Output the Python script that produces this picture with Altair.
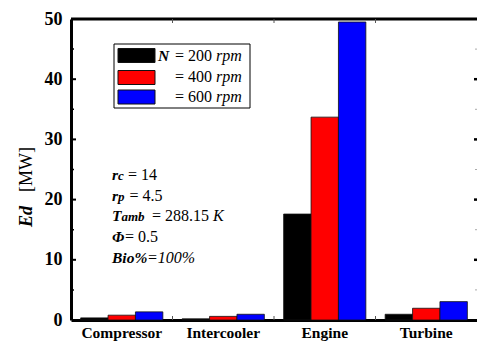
import altair as alt
import pandas as pd

# ---- data ----
components = ["Compressor", "Intercooler", "Engine", "Turbine"]
speeds = ["200", "400", "600"]
ed_200 = [0.35, 0.2, 17.6, 0.95]
ed_400 = [0.8, 0.6, 33.7, 1.95]
ed_600 = [1.35, 0.95, 49.5, 3.05]
bar_colors = ["#000000", "#ff0000", "#0000ff"]
y_major = [0, 10, 20, 30, 40, 50]
y_inner_major = [10, 20, 30, 40]
y_minor = [5, 15, 25, 35, 45]
boundaries = ["Intercooler", "Engine", "Turbine"]

rows = []
for i, c in enumerate(components):
    for s, vals in zip(speeds, [ed_200, ed_400, ed_600]):
        rows.append({"component": c, "speed": s, "ed": vals[i]})
df = pd.DataFrame(rows)

FONT = "Liberation Serif"
W, H = 406, 301
OX, OY = 71, 19  # plot origin in page pixels

xscale = alt.Scale(domain=components, paddingInner=0, paddingOuter=0)
yscale = alt.Scale(domain=[0, 50], nice=False, zero=True)

bars = alt.Chart(df).mark_bar(stroke="#111111", strokeWidth=0.8).encode(
    x=alt.X("component:N", scale=xscale, sort=components,
            axis=alt.Axis(title=None, labelFont=FONT, labelFontSize=15.5,
                          labelFontWeight="bold", labelColor="black",
                          labelAngle=0, labelPadding=5, ticks=False, tickSize=0,
                          domainColor="black", domainWidth=3)),
    xOffset=alt.XOffset("speed:N", sort=speeds,
                        scale=alt.Scale(paddingOuter=0.352, paddingInner=0)),
    y=alt.Y("ed:Q", scale=yscale,
            axis=alt.Axis(title=None, values=y_major, labelFont=FONT,
                          labelFontSize=18, labelFontWeight="bold",
                          labelColor="black", ticks=False, tickSize=0,
                          labelPadding=9, domainColor="black", domainWidth=3,
                          grid=False)),
    color=alt.Color("speed:N", sort=speeds,
                    scale=alt.Scale(domain=speeds, range=bar_colors), legend=None),
)

top_frame = alt.Chart(alt.Data(values=[{}])).mark_rule(
    color="black", strokeWidth=3).encode(y=alt.datum(50, scale=yscale))

major_df = pd.DataFrame({"v": y_inner_major})
minor_df = pd.DataFrame({"v": y_minor})
left_major = alt.Chart(major_df).mark_rule(color="black", strokeWidth=2).encode(
    y=alt.Y("v:Q", scale=yscale), x=alt.value(1), x2=alt.value(5))
left_minor = alt.Chart(minor_df).mark_rule(color="black", strokeWidth=1.5).encode(
    y=alt.Y("v:Q", scale=yscale), x=alt.value(1), x2=alt.value(3))
right_major = alt.Chart(major_df).mark_rule(color="black", strokeWidth=2.5).encode(
    y=alt.Y("v:Q", scale=yscale), x=alt.value(W - 3), x2=alt.value(W))
right_minor = alt.Chart(minor_df).mark_rule(color="#aaaaaa", strokeWidth=1).encode(
    y=alt.Y("v:Q", scale=yscale), x=alt.value(W - 2), x2=alt.value(W))

bnd_df = pd.DataFrame({"component": boundaries})
bottom_notch = alt.Chart(bnd_df).mark_rule(color="#555555", strokeWidth=1).encode(
    x=alt.X("component:N", scale=xscale, bandPosition=0),
    y=alt.value(H - 4), y2=alt.value(H))
top_notch = alt.Chart(bnd_df).mark_rule(color="#555555", strokeWidth=1).encode(
    x=alt.X("component:N", scale=xscale, bandPosition=0),
    y=alt.value(0), y2=alt.value(4))


def frag(text, x, y, size=15, weight=None, style=None, align="left",
         angle=0, baseline="alphabetic"):
    kw = {}
    if weight:
        kw["fontWeight"] = weight
    if style:
        kw["fontStyle"] = style
    if angle:
        kw["angle"] = angle
    return alt.Chart(alt.Data(values=[{}])).mark_text(
        text=text, font=FONT, fontSize=size, align=align, baseline=baseline,
        color="black", **kw).encode(
        x=alt.value(x - OX), y=alt.value(y - OY))


def box(x1, y1, x2, y2, fill, stroke="black", sw=1):
    return alt.Chart(alt.Data(values=[{}])).mark_rect(
        fill=fill, stroke=stroke, strokeWidth=sw).encode(
        x=alt.value(x1 - OX), x2=alt.value(x2 - OX),
        y=alt.value(y1 - OY), y2=alt.value(y2 - OY))


layers = [bars, top_frame, left_major, left_minor, right_major, right_minor,
          bottom_notch, top_notch]

# legend
layers += [
    box(114, 44, 250, 108, "white", "black", 1),
    box(118, 48.5, 155, 62.5, bar_colors[0], "#111111", 1),
    box(118, 70.5, 155, 84.5, bar_colors[1], "#111111", 1),
    box(118, 90, 155, 104, bar_colors[2], "#111111", 1),
    frag("N", 158, 61, 15.5, "bold", "italic"),
    frag("= 200", 212, 61, 16, align="right"),
    frag("rpm", 216, 61, 16, style="italic"),
    frag("= 400", 212, 82, 16, align="right"),
    frag("rpm", 216, 82, 16, style="italic"),
    frag("= 600", 212, 101.5, 16, align="right"),
    frag("rpm", 216, 101.5, 16, style="italic"),
]

# annotations
layers += [
    frag("r", 112, 180, 15.5, "bold", "italic"),
    frag("c", 118, 180, 13, "bold", "italic"),
    frag("= 14", 128, 180, 16),
    frag("r", 112, 200.5, 15.5, "bold", "italic"),
    frag("p", 118, 200.5, 13, "bold", "italic"),
    frag("= 4.5", 129.5, 200.5, 16),
    frag("T", 112, 221, 15.5, "bold", "italic"),
    frag("amb", 121.5, 221, 13, "bold", "italic"),
    frag("= 288.15", 209, 221, 16, align="right"),
    frag("K", 213, 221, 16, style="italic"),
    frag("\u03a6", 112, 242, 15.5, "bold", "italic"),
    frag("= 0.5", 125, 242, 16),
    frag("Bio%", 112, 263, 15.5, "bold", "italic"),
    frag("=100%", 147, 263, 16, style="italic"),
]

# y axis title
layers += [
    frag("Ed", 27, 227, 18, "bold", "italic", angle=270, baseline="middle"),
    frag("[MW]", 27, 192, 18, angle=270, baseline="middle"),
]

chart = alt.layer(*layers).properties(
    width=W, height=H,
    autosize=alt.AutoSizeParams(type="none"),
    padding={"left": OX, "top": OY, "right": 0, "bottom": 342 - OY - H},
    background="white",
).configure_view(stroke=None)

chart.save("out.html", embed_options={"renderer": "svg", "actions": False})
